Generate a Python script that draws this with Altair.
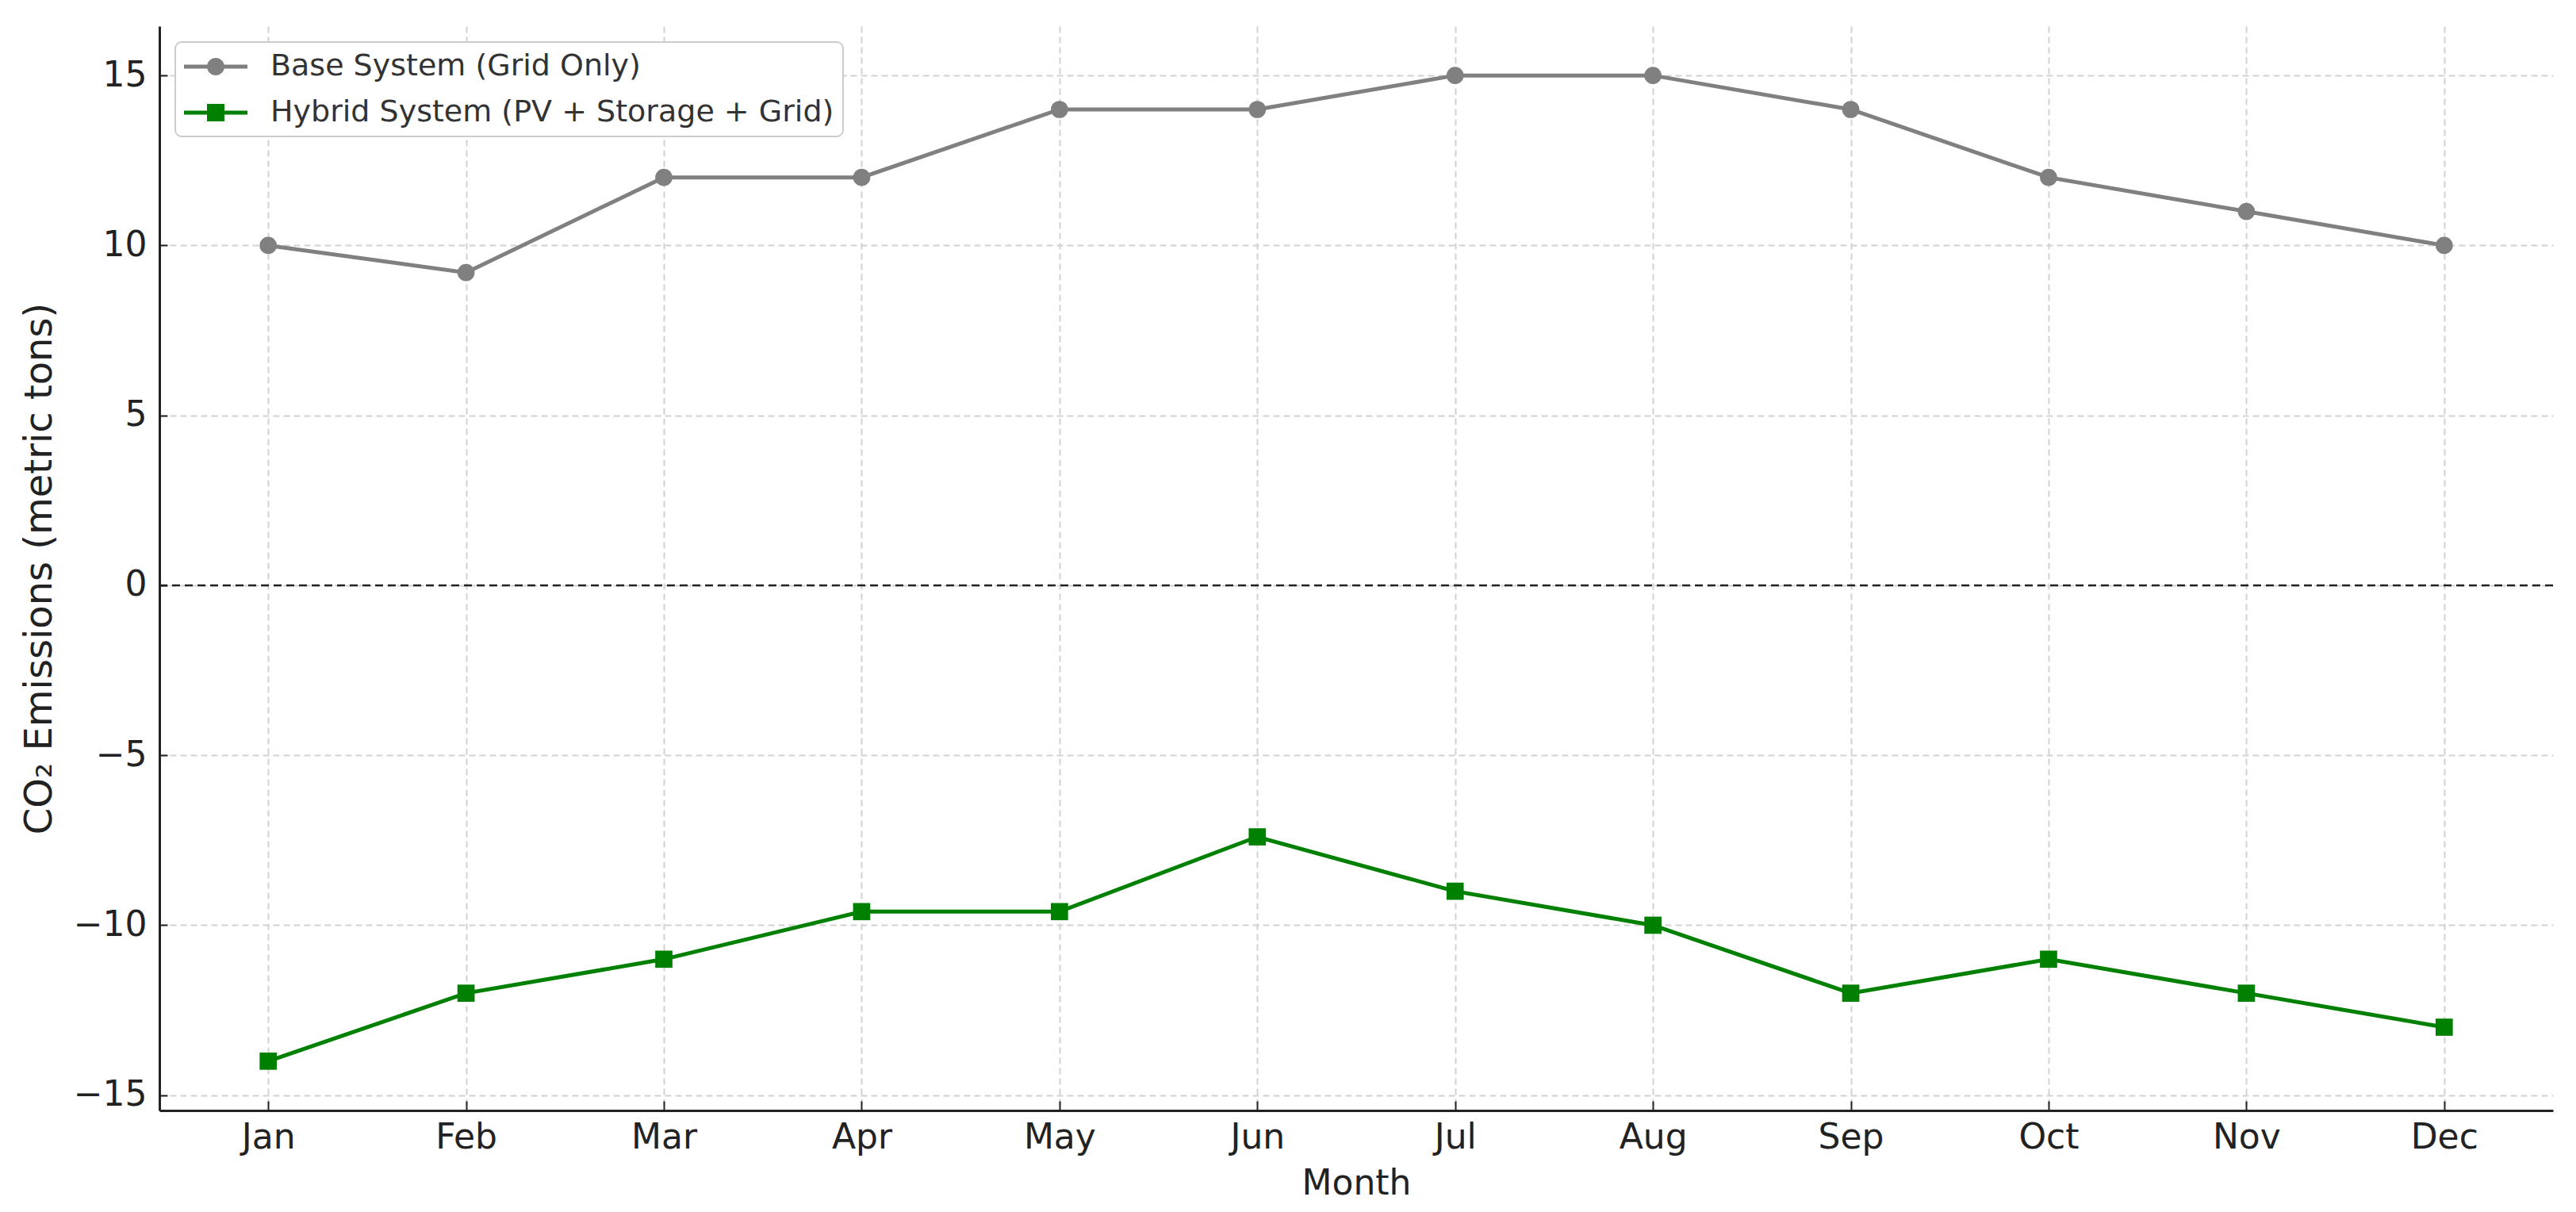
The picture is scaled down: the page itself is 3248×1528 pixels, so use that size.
import altair as alt
import pandas as pd

months = ["Jan", "Feb", "Mar", "Apr", "May", "Jun", "Jul", "Aug", "Sep", "Oct", "Nov", "Dec"]
base_values = [10, 9.2, 12, 12, 14, 14, 15, 15, 14, 12, 11, 10]
hybrid_values = [-14, -12, -11, -9.6, -9.6, -7.4, -9, -10, -12, -11, -12, -13]
series_names = ["Base System (Grid Only)", "Hybrid System (PV + Storage + Grid)"]
series_colors = ["#808080", "#008000"]
y_ticks = [-15, -10, -5, 0, 5, 10, 15]
zero_line = [0]

rows = []
for name, vals in zip(series_names, [base_values, hybrid_values]):
    for i, (m, v) in enumerate(zip(months, vals)):
        rows.append({"Month": m, "Value": v, "Series": name, "idx": i})
df = pd.DataFrame(rows)
zero_df = pd.DataFrame({"v": zero_line})

FONT = "DejaVu Sans"
xscale = alt.Scale(type="point", domain=months, padding=0.55)
yscale = alt.Scale(domain=[-15.45, 16.45], nice=False, zero=False)
cscale = alt.Scale(domain=series_names, range=series_colors)

grid_color = "#d2d2d2"

main_x_axis = alt.Axis(
    title="Month", labelAngle=0, tickSize=0, ticks=False,
    domainColor="#222222", domainWidth=3,
    grid=True, gridColor=grid_color, gridDash=[8, 5], gridWidth=2,
    labelFont=FONT, labelFontSize=44, labelColor="#222222", labelPadding=12,
    titleFont=FONT, titleFontSize=44, titleFontWeight="normal", titleColor="#222222", titlePadding=14,
)
main_y_axis = alt.Axis(
    title="CO₂ Emissions (metric tons)", values=y_ticks, format="d", tickSize=0, ticks=False,
    domainColor="#222222", domainWidth=3,
    grid=True, gridColor=grid_color, gridDash=[8, 5], gridWidth=2,
    labelFont=FONT, labelFontSize=44, labelColor="#222222", labelPadding=16,
    titleFont=FONT, titleFontSize=48, titleFontWeight="normal", titleColor="#222222", titlePadding=18,
)
tick_x_axis = alt.Axis(
    orient="bottom", offset=-12, tickSize=12, tickWidth=2, tickColor="#222222",
    domain=False, labels=False, grid=False, title=None,
)
tick_y_axis = alt.Axis(
    orient="left", offset=-10, tickSize=10, tickWidth=2, tickColor="#222222", values=y_ticks,
    domain=False, labels=False, grid=False, title=None,
)

zero_rule = alt.Chart(zero_df).mark_rule(color="#222222", strokeWidth=2.5, strokeDash=[10, 6]).encode(
    y=alt.Y("v:Q", scale=yscale, axis=None)
)

lines = alt.Chart(df).mark_line(strokeWidth=5).encode(
    x=alt.X("Month:N", scale=xscale, axis=main_x_axis),
    y=alt.Y("Value:Q", scale=yscale, axis=main_y_axis),
    color=alt.Color("Series:N", scale=cscale, legend=None),
    detail="Series:N",
    order=alt.Order("idx:Q"),
)

points = alt.Chart(df).mark_point(filled=True, opacity=1, size=470).encode(
    x=alt.X("Month:N", scale=xscale, axis=tick_x_axis),
    y=alt.Y("Value:Q", scale=yscale, axis=tick_y_axis),
    color=alt.Color("Series:N", scale=cscale, legend=None),
    shape=alt.Shape("Series:N", scale=alt.Scale(domain=series_names, range=["circle", "square"]), legend=None),
)

circle_path = "M-1,-0.125H3V0.125H-1Z M1.55,0A0.55,0.55 0 1 1 0.45,0A0.55,0.55 0 1 1 1.55,0Z"
square_path = "M-1,-0.125H3V0.125H-1Z M0.45,-0.55H1.55V0.55H0.45Z"

legend = alt.Legend(
    title=None, orient="none", legendX=20, legendY=20,
    fillColor="white", strokeColor="#cccccc", padding=11,
    symbolSize=1600, symbolStrokeWidth=0, symbolOpacity=1, labelOffset=69, rowPadding=19,
    labelFont=FONT, labelFontSize=38, labelColor="#333333", labelLimit=1200,
)

legend_layer = alt.Chart(df).mark_point(filled=True, opacity=0).encode(
    x=alt.X("Month:N", scale=xscale, axis=None),
    y=alt.Y("Value:Q", scale=yscale, axis=None),
    color=alt.Color("Series:N", scale=cscale, legend=legend),
    shape=alt.Shape("Series:N", scale=alt.Scale(domain=series_names, range=[circle_path, square_path]), legend=legend),
)

chart = alt.layer(zero_rule, lines, points, legend_layer).resolve_axis(
    x="independent", y="independent"
).resolve_scale(
    shape="independent", color="independent"
).properties(
    width=3018, height=1367,
    autosize=alt.AutoSizeParams(type="none"),
    padding={"left": 193, "top": 25, "right": 21, "bottom": 120},
    background="white",
).configure_view(strokeWidth=0).configure_legend(strokeWidth=2, cornerRadius=8)

chart.save("out.html", embed_options={"renderer": "svg", "actions": False})
